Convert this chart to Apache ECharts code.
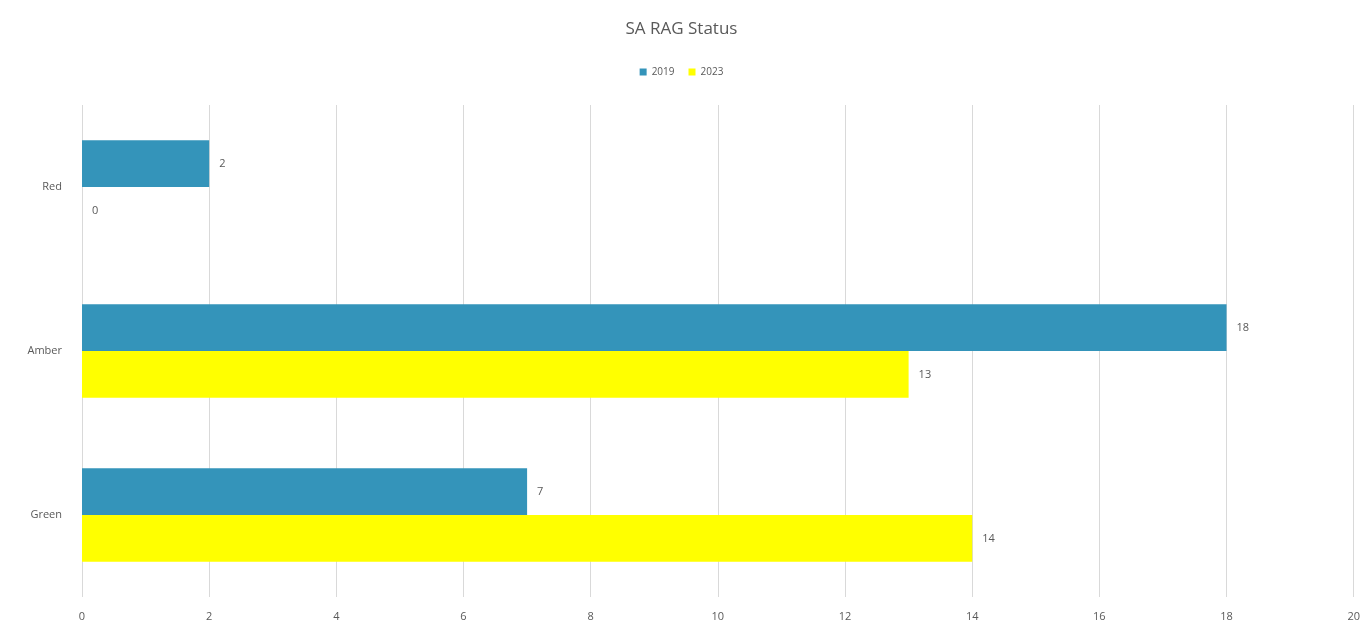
<!DOCTYPE html>
<html>
<head>
<meta charset="utf-8">
<script src="https://cdn.jsdelivr.net/npm/echarts@6/dist/echarts.min.js"></script>
<style>
  html, body { margin: 0; padding: 0; background: #fff; }
  #chart { width: 1363px; height: 630px; }
</style>
</head>
<body>
<div id="chart"></div>
<script>
var categories = ['Red', 'Amber', 'Green'];
var values2019 = [2, 18, 7];
var values2023 = [0, 13, 14];
var xTicks = { min: 0, max: 20, interval: 2 };

var chart = echarts.init(document.getElementById('chart'));
var labelStyle = {
    show: true,
    position: 'right',
    distance: 10,
    color: '#595959',
    fontSize: 11,
    fontFamily: 'Open Sans'
};
var option = {
    animation: false,
    title: {
        text: 'SA RAG Status',
        left: 'center',
        top: 16,
        textStyle: { color: '#595959', fontSize: 17, fontWeight: 'normal', fontFamily: 'Open Sans' }
    },
    legend: {
        top: 62,
        left: 'center',
        itemWidth: 7,
        itemHeight: 7,
        itemGap: 14,
        icon: 'rect',
        textStyle: { color: '#595959', fontSize: 10, fontFamily: 'Open Sans' },
        data: ['2019', '2023']
    },
    grid: { left: 82, right: 6, top: 105, bottom: 33, containLabel: false },
    xAxis: {
        type: 'value',
        min: xTicks.min,
        max: xTicks.max,
        interval: xTicks.interval,
        axisLine: { show: false },
        axisTick: { show: false },
        axisLabel: { color: '#595959', fontSize: 11, fontFamily: 'Open Sans', margin: 14 },
        splitLine: { lineStyle: { color: '#d9d9d9', width: 1 } }
    },
    yAxis: {
        type: 'category',
        inverse: true,
        data: categories,
        axisLine: { show: false },
        axisTick: { show: false },
        axisLabel: { color: '#595959', fontSize: 11, fontFamily: 'Open Sans', margin: 20 }
    },
    series: [
        {
            name: '2019',
            type: 'bar',
            data: values2019,
            barGap: '0%',
            barCategoryGap: '43%',
            itemStyle: { color: '#3494ba' },
            label: labelStyle
        },
        {
            name: '2023',
            type: 'bar',
            data: values2023,
            barGap: '0%',
            barCategoryGap: '43%',
            itemStyle: { color: '#ffff00' },
            label: labelStyle
        }
    ]
};
chart.setOption(option);
</script>
</body>
</html>
